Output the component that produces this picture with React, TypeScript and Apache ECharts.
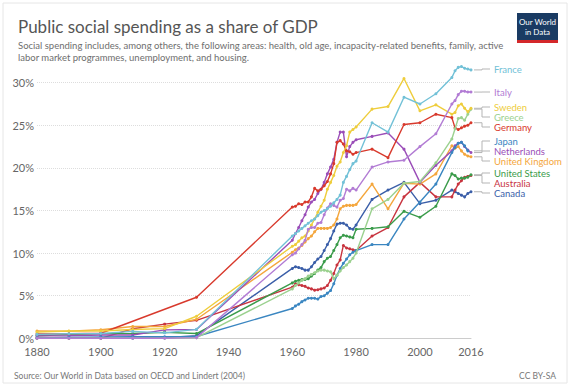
import React, { useEffect, useRef } from "react";
import * as echarts from "echarts";

const YEARS = [
  1880, 1890, 1900, 1910, 1920, 1930,
  1960, 1961, 1962, 1963, 1964, 1965, 1966, 1967, 1968, 1969,
  1970, 1971, 1972, 1973, 1974, 1975, 1976, 1977, 1978, 1979, 1980,
  1985, 1990, 1995, 2000, 2005, 2010, 2011, 2012, 2013, 2014, 2015, 2016,
];

const COUNTRIES = [
  "France", "Italy", "Sweden", "Greece", "Germany", "Japan",
  "Netherlands", "United Kingdom", "United States", "Australia", "Canada",
];

const FRANCE = [0.46, 0.54, 0.57, 0.81, 0.64, 1.05, 12.0, 12.3, 12.6, 12.9, 13.2, 13.5, 13.8, 14.0, 14.4, 14.8, 15.0, 15.2, 15.5, 15.9, 16.3, 16.8, 18.3, 19.0, 19.8, 20.5, 20.8, 25.3, 24.2, 28.3, 27.5, 28.7, 30.6, 31.4, 31.8, 31.9, 31.7, 31.6, 31.5];
const ITALY = [0, 0, 0, 0, 0, 0.08, 9.8, 10.0, 10.5, 11.0, 11.5, 12.8, 13.0, 13.0, 13.5, 13.6, 14.5, 15.3, 15.8, 15.6, 15.4, 16.2, 16.4, 17.5, 17.3, 17.6, 17.4, 20.1, 20.7, 20.9, 22.5, 24.0, 27.5, 27.9, 28.6, 29.0, 29.0, 28.9, 28.9];
const SWEDEN = [0.72, 0.85, 0.85, 1.03, 1.14, 2.59, 10.8, 11.0, 11.4, 11.8, 12.0, 12.6, 13.3, 14.0, 14.8, 15.5, 16.2, 17.5, 18.3, 19.1, 20.2, 20.7, 21.8, 22.6, 24.2, 24.5, 24.8, 26.9, 27.2, 30.5, 26.7, 27.4, 26.3, 26.5, 27.3, 27.5, 27.0, 26.6, 27.0];
const GREECE = [0, 0, 0, 0, 0, 0.07, 5.8, 6.2, 6.5, 6.8, 7.0, 7.3, 7.5, 7.7, 7.9, 8.0, 8.0, 7.9, 7.8, 7.0, 7.4, 7.9, 8.3, 8.6, 9.0, 9.4, 10.0, 15.2, 16.3, 18.2, 18.4, 20.6, 23.4, 24.6, 25.8, 25.9, 25.6, 26.3, 26.9];
const GERMANY = [0.5, 0.53, 0.59, null, null, 4.82, 15.4, 15.5, 15.8, 15.7, 16.0, 16.0, 16.6, 17.6, 17.3, 17.5, 17.9, 18.4, 19.3, 20.5, 23.0, 23.2, 22.8, 22.0, 21.9, 21.6, 21.8, 22.2, 21.2, 25.1, 25.3, 26.3, 25.9, 24.7, 24.5, 24.7, 24.9, 25.0, 25.3];
const JAPAN = [0.05, 0.11, 0.17, 0.18, 0.18, 0.21, 3.5, 3.8, 4.0, 4.3, 4.5, 4.7, 4.7, 4.7, 4.6, 4.9, 5.0, 5.3, 5.6, 6.4, 7.4, 8.2, 8.8, 9.3, 9.8, 10.1, 10.3, 11.0, 11.0, 14.0, 16.0, 18.1, 21.8, 22.4, 22.9, 23.0, 22.6, 22.0, null];
const NETHERLANDS = [0.29, 0.3, 0.39, 0.39, 0.99, 1.03, 11.5, 12.3, 13.0, 13.8, 14.5, 15.4, 16.0, 16.3, 17.0, 17.5, 18.3, 19.3, 20.1, 21.0, 23.0, 24.2, 24.2, 21.3, 22.5, 23.0, 23.3, 23.7, 24.1, 22.2, 18.3, 20.3, 22.0, 22.6, 22.9, 23.0, 22.5, 22.1, 21.8];
const UNITED_KINGDOM = [0.86, 0.83, 1.0, 1.38, 1.39, 2.24, 10.1, 10.4, 10.6, 10.9, 11.3, 11.7, 12.0, 12.5, 12.9, 12.9, 12.9, 12.9, 13.0, 13.3, 14.0, 15.2, 15.5, 15.6, 15.6, 15.6, 15.7, 18.1, 15.2, 18.2, 18.1, 19.3, 22.6, 22.3, 22.5, 22.0, 21.6, 21.4, 21.3];
const UNITED_STATES = [0.29, 0.45, 0.55, 0.56, 0.7, 0.56, 6.5, 6.7, 6.8, 6.9, 6.9, 7.0, 7.3, 7.6, 8.0, 8.3, 9.0, 9.4, 9.6, 10.3, 11.0, 11.8, 12.1, 12.0, 11.9, 11.8, 12.8, 12.9, 13.1, 14.9, 14.2, 15.5, 19.3, 19.1, 18.7, 18.8, 18.8, 18.9, 19.2];
const AUSTRALIA = [0, 0, 0, 1.12, 1.66, 2.11, 6.0, 6.4, 6.3, 6.2, 6.1, 5.9, 5.8, 5.65, 5.7, 5.8, 5.9, 6.2, 6.8, 7.6, 8.6, 9.2, 10.9, 10.6, 10.5, 10.4, 10.3, 12.0, 13.0, 16.6, 18.3, 16.6, 16.6, 17.4, 18.1, 18.5, 18.9, 19.0, 19.1];
const CANADA = [0, 0, 0, 0, 0.06, 0.31, 8.2, 8.4, 8.3, 8.2, 8.0, 8.0, 8.4, 8.9, 9.3, 9.6, 10.3, 11.0, 11.7, 12.6, 13.4, 13.5, 13.5, 13.3, 12.9, 12.8, 13.3, 16.3, 17.4, 18.3, 15.8, 16.2, 17.4, 17.2, 17.0, 16.8, 16.6, 17.0, 17.2];

const X_TICKS = [1880, 1900, 1920, 1940, 1960, 1980, 2000, 2016];
const Y_TICKS = [0, 5, 10, 15, 20, 25, 30];

const VALUES = [FRANCE, ITALY, SWEDEN, GREECE, GERMANY, JAPAN, NETHERLANDS, UNITED_KINGDOM, UNITED_STATES, AUSTRALIA, CANADA];

// styles / layout
const COLORS = ["#72c1d7", "#b27cd4", "#eecd3c", "#9bd18f", "#d8392c", "#3a86c1", "#9a4db8", "#f4a63c", "#3a9b4a", "#c8343f", "#3a5ea8"];
const LABEL_Y = [69, 92, 107, 117, 127, 141, 151, 161, 173, 183, 193];
const FONT = "Lato, 'Liberation Sans', Arial, sans-serif";

export default function App() {
  const ref = useRef<HTMLDivElement>(null);
  useEffect(() => {
    document.body.style.margin = "0";
    const chart = echarts.init(ref.current!, null, { renderer: "svg" });
    const seriesData = VALUES.map((vals) =>
      YEARS.map((y, i) => [y, vals[i]]).filter((d) => d[1] !== null && d[1] !== undefined)
    );
    const series = COUNTRIES.map((name, k) => ({
      name,
      type: "line",
      data: seriesData[k],
      symbol: "circle",
      symbolSize: 3,
      showSymbol: true,
      clip: false,
      connectNulls: true,
      lineStyle: { width: 1.4, color: COLORS[k] },
      itemStyle: { color: COLORS[k] },
      emphasis: { disabled: true },
      z: 20 - k,
    }));
    chart.setOption({
      animation: false,
      backgroundColor: "#ffffff",
      textStyle: { fontFamily: FONT },
      title: {
        text: "Public social spending as a share of GDP",
        subtext:
          "Social spending includes, among others, the following areas: health, old age, incapacity-related benefits, family, active\nlabor market programmes, unemployment, and housing.",
        left: 13,
        top: 11,
        itemGap: 4,
        textStyle: { fontFamily: FONT, fontSize: 17, fontWeight: "normal", color: "#555555", lineHeight: 20 },
        subtextStyle: { fontFamily: FONT, fontSize: 9.5, color: "#6e6e6e", lineHeight: 11.5 },
      },
      grid: { left: 37, right: 99, top: 82.7, bottom: 47.7 },
      xAxis: {
        type: "value",
        min: 1880,
        max: 2016,
        axisLine: { show: true, lineStyle: { color: "#cccccc" } },
        axisTick: { show: false },
        splitLine: { show: false },
        axisLabel: {
          customValues: X_TICKS,
          formatter: (v: number) => String(v),
          color: "#666666",
          fontSize: 11,
          fontFamily: FONT,
          margin: 8,
        },
      },
      yAxis: {
        type: "value",
        min: 0,
        max: 30,
        interval: 5,
        axisLine: { show: false },
        axisTick: { show: false },
        splitLine: { show: true, lineStyle: { color: "#dddddd", type: "dotted" } },
        axisLabel: {
          customValues: Y_TICKS,
          formatter: (v: number) => v + "%",
          color: "#666666",
          fontSize: 11,
          fontFamily: FONT,
          margin: 3,
        },
      },
      series,
    });

    const graphics: any[] = [
      {
        type: "rect",
        shape: { x: 3, y: 3, width: 564, height: 380 },
        style: { fill: "none", stroke: "#e6e6e6", lineWidth: 1 },
        silent: true,
      },
      {
        type: "group",
        x: 517,
        y: 13,
        children: [
          { type: "rect", shape: { x: 0, y: 0, width: 41, height: 30 }, style: { fill: "#1a3b63" } },
          { type: "rect", shape: { x: 0, y: 27, width: 41, height: 3 }, style: { fill: "#d4282a" } },
          {
            type: "text",
            x: 20.5,
            y: 9,
            style: { text: "Our World", fill: "#ffffff", font: "8px " + FONT, textAlign: "center", textVerticalAlign: "middle" },
          },
          {
            type: "text",
            x: 20.5,
            y: 19,
            style: { text: "in Data", fill: "#ffffff", font: "8px " + FONT, textAlign: "center", textVerticalAlign: "middle" },
          },
        ],
      },
      {
        type: "text",
        x: 14,
        y: 376,
        style: {
          text: "Source: Our World in Data based on OECD and Lindert (2004)",
          fill: "#777777",
          font: "8.5px " + FONT,
          textVerticalAlign: "middle",
        },
      },
      {
        type: "text",
        x: 556,
        y: 376,
        style: { text: "CC BY-SA", fill: "#777777", font: "8.5px " + FONT, textAlign: "right", textVerticalAlign: "middle" },
      },
    ];

    COUNTRIES.forEach((name, k) => {
      const pts = seriesData[k];
      const last = pts[pts.length - 1];
      const p = chart.convertToPixel({ gridIndex: 0 }, last as number[]) as number[];
      const ey = p[1];
      const ly = LABEL_Y[k];
      graphics.push({
        type: "polyline",
        shape: { points: [[474, ey], [482, ey], [482, ly], [490, ly]] },
        style: { stroke: "#b5b5b5", lineWidth: 1, fill: "none" },
        silent: true,
      });
      graphics.push({
        type: "text",
        x: 494,
        y: ly,
        style: { text: name, fill: COLORS[k], font: "9.5px " + FONT, lineHeight: 10, textVerticalAlign: "middle" },
      });
    });

    chart.setOption({ graphic: graphics });
    return () => chart.dispose();
  }, []);
  return <div ref={ref} style={{ width: 570, height: 386 }} />;
}
